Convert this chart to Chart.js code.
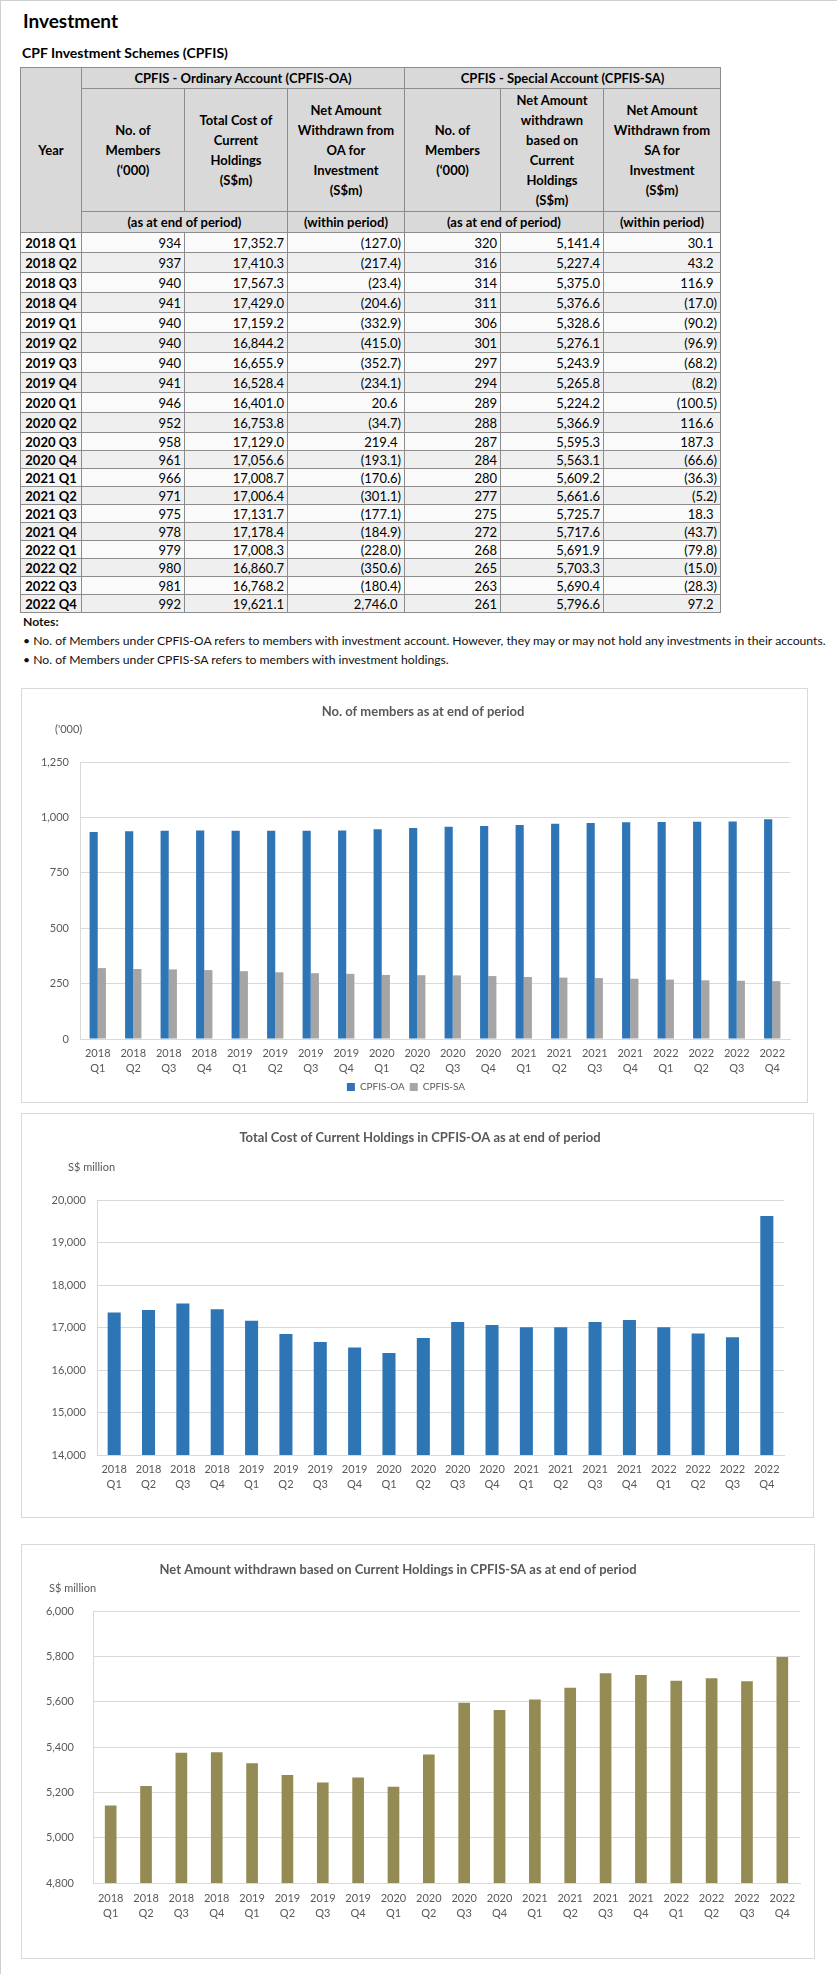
<!DOCTYPE html>
<html>
<head>
<meta charset="utf-8">
<script src="https://cdn.jsdelivr.net/npm/chart.js@4.4.1/dist/chart.umd.min.js"></script>
<style>
body { margin:0; background:#fff; font-family: Lato, "Open Sans", sans-serif; color:#000; }
#page { position:relative; width:837px; height:1974px; border-left:1px solid #cfcfcf; border-top:1px solid #cfcfcf; box-sizing:border-box; overflow:hidden; }
h1 { position:absolute; left:22px; top:10px; margin:0; font-size:19px; line-height:20px; font-weight:bold; }
h2 { position:absolute; left:21px; top:42px; margin:0; font-size:14px; line-height:20px; font-weight:bold; }
table { position:absolute; left:19px; top:66px; border-collapse:collapse; font-size:13px; }
th, td { border:1px solid #8c8c8c; padding:0 3px; box-sizing:border-box; white-space:nowrap; }
th { background:#d9d9d9; font-weight:bold; text-align:center; line-height:20px; }
td { text-align:right; line-height:16px; }
td.yr { text-align:center; font-weight:bold; }
tr.r0 td { background:#fafafa; }
tr.r1 td { background:#efefef; }
.pad { visibility:hidden; }
#notes { position:absolute; left:22px; top:611px; font-size:12.2px; line-height:19px; white-space:nowrap; color:#111; }
.box { position:absolute; border:1px solid #d9d9d9; background:#fff; }
.box canvas { display:block; }
</style>
</head>
<body>
<div id="page">
  <h1>Investment</h1>
  <h2>CPF Investment Schemes (CPFIS)</h2>
  <table id="tbl">
    <colgroup>
      <col style="width:61px"><col style="width:103px"><col style="width:103px"><col style="width:117px">
      <col style="width:96px"><col style="width:103px"><col style="width:117px">
    </colgroup>
    <thead>
      <tr style="height:21px"><th rowspan="3">Year</th><th colspan="3">CPFIS - Ordinary Account (CPFIS-OA)</th><th colspan="3">CPFIS - Special Account (CPFIS-SA)</th></tr>
      <tr style="height:123px">
        <th>No. of<br>Members<br>(‘000)</th>
        <th>Total Cost of<br>Current<br>Holdings<br>(S$m)</th>
        <th>Net Amount<br>Withdrawn from<br>OA for<br>Investment<br>(S$m)</th>
        <th>No. of<br>Members<br>(‘000)</th>
        <th>Net Amount<br>withdrawn<br>based on<br>Current<br>Holdings<br>(S$m)</th>
        <th>Net Amount<br>Withdrawn from<br>SA for<br>Investment<br>(S$m)</th>
      </tr>
      <tr style="height:20px"><th colspan="2">(as at end of period)</th><th>(within period)</th><th colspan="2">(as at end of period)</th><th>(within period)</th></tr>
    </thead>
    <tbody id="tbody"></tbody>
  </table>
  <div id="notes">
    <b>Notes:</b><br>
    • No. of Members under CPFIS-OA refers to members with investment account. However, they may or may not hold any investments in their accounts.<br>
    • No. of Members under CPFIS-SA refers to members with investment holdings.
  </div>

  <div class="box" style="left:20px; top:687px;"><canvas id="c1" width="785" height="413"></canvas></div>
  <div class="box" style="left:20px; top:1112px;"><canvas id="c2" width="791" height="403"></canvas></div>
  <div class="box" style="left:20px; top:1543px;"><canvas id="c3" width="792" height="413"></canvas></div>
</div>

<script>
// quarters
const quarters = ['2018 Q1', '2018 Q2', '2018 Q3', '2018 Q4', '2019 Q1', '2019 Q2', '2019 Q3', '2019 Q4',
  '2020 Q1', '2020 Q2', '2020 Q3', '2020 Q4', '2021 Q1', '2021 Q2', '2021 Q3', '2021 Q4',
  '2022 Q1', '2022 Q2', '2022 Q3', '2022 Q4'];

// CPFIS-OA
const oaMembers = [934, 937, 940, 941, 940, 940, 940, 941, 946, 952, 958, 961, 966, 971, 975, 978, 979, 980, 981, 992];
const oaCost = [17352.7, 17410.3, 17567.3, 17429.0, 17159.2, 16844.2, 16655.9, 16528.4, 16401.0, 16753.8,
  17129.0, 17056.6, 17008.7, 17006.4, 17131.7, 17178.4, 17008.3, 16860.7, 16768.2, 19621.1];
const oaNet = [-127.0, -217.4, -23.4, -204.6, -332.9, -415.0, -352.7, -234.1, 20.6, -34.7,
  219.4, -193.1, -170.6, -301.1, -177.1, -184.9, -228.0, -350.6, -180.4, 2746.0];

// CPFIS-SA
const saMembers = [320, 316, 314, 311, 306, 301, 297, 294, 289, 288, 287, 284, 280, 277, 275, 272, 268, 265, 263, 261];
const saCost = [5141.4, 5227.4, 5375.0, 5376.6, 5328.6, 5276.1, 5243.9, 5265.8, 5224.2, 5366.9,
  5595.3, 5563.1, 5609.2, 5661.6, 5725.7, 5717.6, 5691.9, 5703.3, 5690.4, 5796.6];
const saNet = [30.1, 43.2, 116.9, -17.0, -90.2, -96.9, -68.2, -8.2, -100.5, 116.6,
  187.3, -66.6, -36.3, -5.2, 18.3, -43.7, -79.8, -15.0, -28.3, 97.2];

// y axis ticks
const membersTicks = [0, 250, 500, 750, 1000, 1250];
const oaCostTicks = [14000, 15000, 16000, 17000, 18000, 19000, 20000];
const saCostTicks = [4800, 5000, 5200, 5400, 5600, 5800, 6000];

// table
const fmt1 = v => v.toLocaleString('en-US', {minimumFractionDigits: 1, maximumFractionDigits: 1});
const fmtNet = v => v < 0 ? '(' + fmt1(-v) + ')' : fmt1(v) + '<span class="pad">)</span>';
let rows = '';
quarters.forEach((q, i) => {
  const h = i < 10 ? 20 : 18;
  rows += '<tr class="r' + (i % 2) + '" style="height:' + h + 'px">' +
    '<td class="yr">' + q + '</td>' +
    '<td>' + oaMembers[i] + '</td><td>' + fmt1(oaCost[i]) + '</td><td>' + fmtNet(oaNet[i]) + '</td>' +
    '<td>' + saMembers[i] + '</td><td>' + fmt1(saCost[i]) + '</td><td>' + fmtNet(saNet[i]) + '</td></tr>';
});
document.getElementById('tbody').innerHTML = rows;

// charts
Chart.defaults.font.family = 'Lato, "Open Sans", sans-serif';
Chart.defaults.color = '#595959';
Chart.register({
  id: 'texts',
  afterDraw(chart, args, opts) {
    const ctx = chart.ctx;
    (opts.items || []).forEach(t => {
      ctx.save();
      ctx.font = t.font;
      ctx.fillStyle = '#595959';
      ctx.textAlign = t.align || 'left';
      ctx.textBaseline = 'middle';
      ctx.fillText(t.text, t.x, t.y);
      ctx.restore();
    });
  }
});

const xLabels = quarters.map(q => q.split(' '));
const titleFont = 'bold 13px Lato, "Open Sans", sans-serif';
const unitFont = '11px Lato, "Open Sans", sans-serif';

function scales(ticks, yWidth, yPad, xHeight, xPad) {
  return {
    x: {
      grid: {display: false, drawTicks: false},
      border: {color: '#d9d9d9'},
      ticks: {font: {size: 11, lineHeight: 1.35}, padding: xPad, maxRotation: 0, autoSkip: false},
      afterFit: s => { s.height = xHeight; }
    },
    y: {
      min: ticks[0],
      max: ticks[ticks.length - 1],
      grid: {color: '#d9d9d9', drawTicks: false},
      border: {display: true, color: '#d9d9d9'},
      ticks: {stepSize: ticks[1] - ticks[0], padding: yPad, font: {size: 11},
        callback: v => v.toLocaleString('en-US')},
      afterFit: s => { s.width = yWidth; }
    }
  };
}

new Chart(document.getElementById('c1'), {
  type: 'bar',
  data: {
    labels: xLabels,
    datasets: [
      {label: 'CPFIS-OA', data: oaMembers, backgroundColor: '#2E75B6', categoryPercentage: 0.46, barPercentage: 1},
      {label: 'CPFIS-SA', data: saMembers, backgroundColor: '#A5A5A5', categoryPercentage: 0.46, barPercentage: 1}
    ]
  },
  options: {
    responsive: false,
    animation: false,
    layout: {padding: {top: 73, right: 17, left: 0, bottom: 0}},
    scales: scales(membersTicks, 58, 11, 38, 7),
    plugins: {
      legend: {position: 'bottom', labels: {font: {size: 10}, boxWidth: 8, boxHeight: 8, padding: 5}},
      tooltip: {enabled: false},
      texts: {items: [
        {text: 'No. of members as at end of period', x: 401, y: 23, font: titleFont, align: 'center'},
        {text: "('000)", x: 33, y: 40, font: unitFont}
      ]}
    }
  }
});

new Chart(document.getElementById('c2'), {
  type: 'bar',
  data: {
    labels: xLabels,
    datasets: [
      {label: 'CPFIS-OA', data: oaCost, backgroundColor: '#2E75B6', categoryPercentage: 0.38, barPercentage: 1}
    ]
  },
  options: {
    responsive: false,
    animation: false,
    layout: {padding: {top: 86, right: 29, left: 0, bottom: 20}},
    scales: scales(oaCostTicks, 75, 11, 42, 7),
    plugins: {
      legend: {display: false},
      tooltip: {enabled: false},
      texts: {items: [
        {text: 'Total Cost of Current Holdings in CPFIS-OA as at end of period', x: 398, y: 24, font: titleFont, align: 'center'},
        {text: 'S$ million', x: 46, y: 53, font: unitFont}
      ]}
    }
  }
});

new Chart(document.getElementById('c3'), {
  type: 'bar',
  data: {
    labels: xLabels,
    datasets: [
      {label: 'CPFIS-SA', data: saCost, backgroundColor: '#948A54', categoryPercentage: 0.33, barPercentage: 1}
    ]
  },
  options: {
    responsive: false,
    animation: false,
    layout: {padding: {top: 66, right: 14, left: 0, bottom: 32}},
    scales: scales(saCostTicks, 71, 19, 43, 8),
    plugins: {
      legend: {display: false},
      tooltip: {enabled: false},
      texts: {items: [
        {text: 'Net Amount withdrawn based on Current Holdings in CPFIS-SA as at end of period', x: 376, y: 25, font: titleFont, align: 'center'},
        {text: 'S$ million', x: 27, y: 43, font: unitFont}
      ]}
    }
  }
});
</script>
</body>
</html>
